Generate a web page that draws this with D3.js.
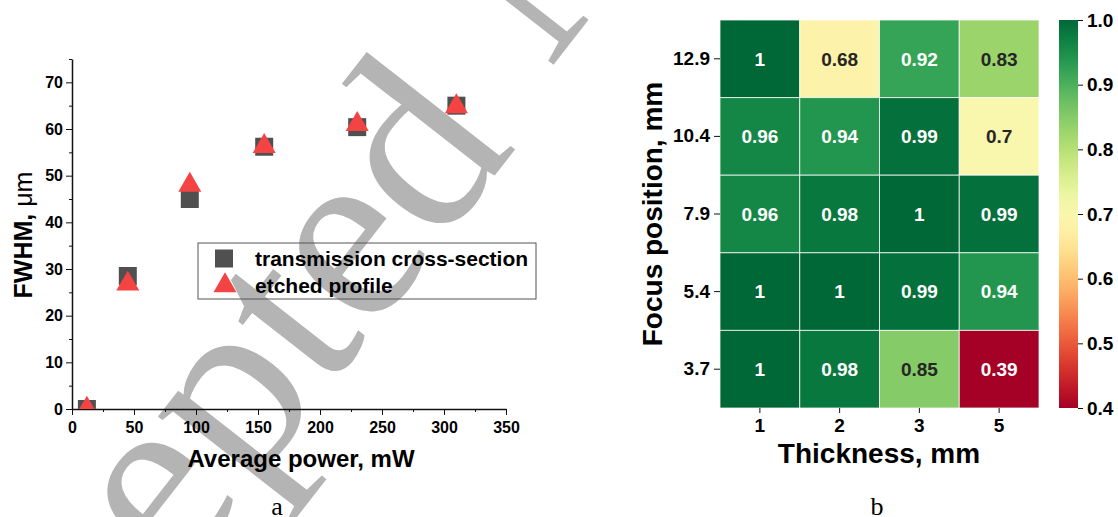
<!DOCTYPE html>
<meta charset="utf-8">
<style>
body { margin: 0; background: #fff; }
svg { display: block; font-family: "Liberation Sans", Arial, sans-serif; }
.axis text { font-weight: bold; fill: #000; }
.axis line { stroke: #111; }
</style>
<svg width="1118" height="517"></svg>
<script src="https://d3js.org/d3.v7.min.js"></script>
<script>
// panel a: FWHM vs average power
var power = [12, 45, 95, 155, 230, 310];
var fwhmTransmission = [0, 28.5, 45, 56.2, 60.4, 65];
var fwhmEtched = [0, 26.8, 48, 56.3, 61, 64.8];
var powerTicks = [0, 50, 100, 150, 200, 250, 300, 350];
var fwhmTicks = [0, 10, 20, 30, 40, 50, 60, 70];

// panel b: heatmap
var thickness = ["1", "2", "3", "5"];
var focusPos = ["12.9", "10.4", "7.9", "5.4", "3.7"];
var score = [
  [1, 0.68, 0.92, 0.83],
  [0.96, 0.94, 0.99, 0.7],
  [0.96, 0.98, 1, 0.99],
  [1, 1, 0.99, 0.94],
  [1, 0.98, 0.85, 0.39]
];
var colorTicks = [0.4, 0.5, 0.6, 0.7, 0.8, 0.9, 1.0];

var svg = d3.select("svg");
svg.append("rect").attr("width", 1118).attr("height", 517).attr("fill", "#fff");

// watermark, behind everything
var wm = svg.append("g")
    .attr("transform", "translate(517,147) rotate(-52)")
    .style("font-family", "'Liberation Serif', 'Times New Roman', serif")
    .style("font-size", "255px")
    .attr("fill", "#b4b4b4");
wm.append("text").attr("text-anchor", "end").text("Accepted");
wm.append("text").attr("x", 80).attr("y", -22).text("Manuscript");

// ---------- panel a ----------
var x = d3.scaleLinear().domain([0, 350]).range([72, 506]);
var y = d3.scaleLinear().domain([0, 75]).range([409, 59]);

svg.append("defs").append("clipPath")
    .attr("id", "clipA")
  .append("rect")
    .attr("x", 72).attr("y", 59)
    .attr("width", 434).attr("height", 350);

var gxMinor = svg.append("g").attr("class", "axis").attr("transform", "translate(0,409)")
    .call(d3.axisBottom(x).tickValues(d3.range(25, 350, 50)).tickSize(3).tickSizeOuter(0).tickFormat(""));
gxMinor.select(".domain").remove();
var gx = svg.append("g").attr("class", "axis").attr("transform", "translate(0,409)")
    .call(d3.axisBottom(x).tickValues(powerTicks).tickSize(6).tickSizeOuter(0).tickPadding(7));
gx.selectAll("text").style("font-size", "16px");
gx.select(".domain").attr("stroke", "#111").attr("stroke-width", 1.5);

var gyMinor = svg.append("g").attr("class", "axis").attr("transform", "translate(72,0)")
    .call(d3.axisLeft(y).tickValues(d3.range(5, 80, 10)).tickSize(3).tickSizeOuter(0).tickFormat(""));
gyMinor.select(".domain").remove();
var gy = svg.append("g").attr("class", "axis").attr("transform", "translate(72,0)")
    .call(d3.axisLeft(y).tickValues(fwhmTicks).tickSize(6).tickSizeOuter(0).tickPadding(3));
gy.selectAll("text").style("font-size", "16px");
gy.select(".domain").attr("stroke", "#111").attr("stroke-width", 1.5);

var plot = svg.append("g").attr("clip-path", "url(#clipA)");
plot.selectAll(".sq").data(power).enter().append("path")
    .attr("class", "sq")
    .attr("d", d3.symbol(d3.symbolSquare, 324))
    .attr("transform", function(d, i) { return "translate(" + x(d) + "," + y(fwhmTransmission[i]) + ")"; })
    .attr("fill", "#505050");
plot.selectAll(".tri").data(power).enter().append("path")
    .attr("class", "tri")
    .attr("d", d3.symbol(d3.symbolTriangle, 229))
    .attr("transform", function(d, i) { return "translate(" + x(d) + "," + y(fwhmEtched[i]) + ")"; })
    .attr("fill", "#f44343");

svg.append("text")
    .attr("x", 301).attr("y", 467)
    .attr("text-anchor", "middle")
    .style("font-size", "24px").style("font-weight", "bold")
    .text("Average power, mW");

var yt = svg.append("text")
    .attr("transform", "translate(32,235) rotate(-90)")
    .attr("text-anchor", "middle")
    .style("font-size", "25px").style("font-weight", "bold");
yt.append("tspan").text("FWHM, ");
yt.append("tspan").style("font-weight", "normal").text("\u03bcm");

// legend
var leg = svg.append("g");
leg.append("rect")
    .attr("x", 198).attr("y", 243).attr("width", 338).attr("height", 56)
    .attr("fill", "none").attr("stroke", "#555").attr("stroke-width", 1);
leg.append("path").attr("d", d3.symbol(d3.symbolSquare, 324))
    .attr("transform", "translate(224,258.5)").attr("fill", "#505050");
leg.append("path").attr("d", d3.symbol(d3.symbolTriangle, 229))
    .attr("transform", "translate(225,285.5)").attr("fill", "#f44343");
leg.append("text").attr("x", 255).attr("y", 266)
    .style("font-size", "21px").style("font-weight", "bold").text("transmission cross-section");
leg.append("text").attr("x", 255).attr("y", 293)
    .style("font-size", "21px").style("font-weight", "bold").text("etched profile");

svg.append("text")
    .attr("x", 277).attr("y", 515)
    .attr("text-anchor", "middle")
    .style("font-family", "'Liberation Serif', serif").style("font-size", "26px")
    .text("a");

// ---------- panel b ----------
var hx = d3.scaleBand().domain(thickness).range([720, 1039]);
var hy = d3.scaleBand().domain(focusPos).range([20, 408]);
var cnorm = d3.scaleLinear().domain([0.4, 1.0]).range([0, 1]).clamp(true);
function color(v) { return d3.interpolateRdYlGn(cnorm(v)); }
function lum(c) {
  var r = d3.rgb(c);
  var f = function(u) { u /= 255; return u <= 0.03928 ? u / 12.92 : Math.pow((u + 0.055) / 1.055, 2.4); };
  return 0.2126 * f(r.r) + 0.7152 * f(r.g) + 0.0722 * f(r.b);
}

var cells = [];
focusPos.forEach(function(f, i) {
  thickness.forEach(function(t, j) { cells.push({f: f, t: t, v: score[i][j]}); });
});

svg.selectAll(".cell").data(cells).enter().append("rect")
    .attr("class", "cell")
    .attr("x", function(d) { return hx(d.t); })
    .attr("y", function(d) { return hy(d.f); })
    .attr("width", hx.bandwidth())
    .attr("height", hy.bandwidth())
    .attr("fill", function(d) { return color(d.v); })
    .attr("stroke", "rgba(255,255,255,0.75)")
    .attr("stroke-width", 1);

svg.selectAll(".lab").data(cells).enter().append("text")
    .attr("class", "lab")
    .attr("x", function(d) { return hx(d.t) + hx.bandwidth() / 2; })
    .attr("y", function(d) { return hy(d.f) + hy.bandwidth() / 2; })
    .attr("dy", "0.36em")
    .attr("text-anchor", "middle")
    .style("font-size", "19px").style("font-weight", "bold")
    .attr("fill", function(d) { return lum(color(d.v)) > 0.408 ? "#262626" : "#fff"; })
    .text(function(d) { return d.v; });

var hxa = svg.append("g").attr("class", "axis").attr("transform", "translate(0,408)")
    .call(d3.axisBottom(hx).tickSize(5).tickSizeOuter(0).tickPadding(6));
hxa.select(".domain").remove();
hxa.selectAll("text").style("font-size", "19px");

var hya = svg.append("g").attr("class", "axis").attr("transform", "translate(720,0)")
    .call(d3.axisLeft(hy).tickSize(6).tickSizeOuter(0).tickPadding(4));
hya.select(".domain").remove();
hya.selectAll("text").style("font-size", "19px");

svg.append("text")
    .attr("x", 879).attr("y", 463)
    .attr("text-anchor", "middle")
    .style("font-size", "28px").style("font-weight", "bold")
    .text("Thickness, mm");

svg.append("text")
    .attr("transform", "translate(662,214) rotate(-90)")
    .attr("text-anchor", "middle")
    .style("font-size", "28px").style("font-weight", "bold")
    .text("Focus position, mm");

// colorbar
var cy = d3.scaleLinear().domain([0.4, 1.0]).range([408, 20]);
var grad = svg.select("defs").append("linearGradient")
    .attr("id", "cbar").attr("x1", 0).attr("y1", 1).attr("x2", 0).attr("y2", 0);
grad.selectAll("stop").data(d3.range(0, 1.0001, 0.05)).enter().append("stop")
    .attr("offset", function(d) { return d; })
    .attr("stop-color", function(d) { return d3.interpolateRdYlGn(d); });
svg.append("rect")
    .attr("x", 1059).attr("y", 20).attr("width", 19).attr("height", 388)
    .attr("fill", "url(#cbar)");
var ca = svg.append("g").attr("class", "axis").attr("transform", "translate(1078,0)")
    .call(d3.axisRight(cy).tickValues(colorTicks).tickFormat(d3.format(".1f"))
      .tickSize(5).tickSizeOuter(0).tickPadding(4));
ca.select(".domain").remove();
ca.selectAll("text").style("font-size", "19px");

svg.append("text")
    .attr("x", 877).attr("y", 515)
    .attr("text-anchor", "middle")
    .style("font-family", "'Liberation Serif', serif").style("font-size", "26px")
    .text("b");
</script>
